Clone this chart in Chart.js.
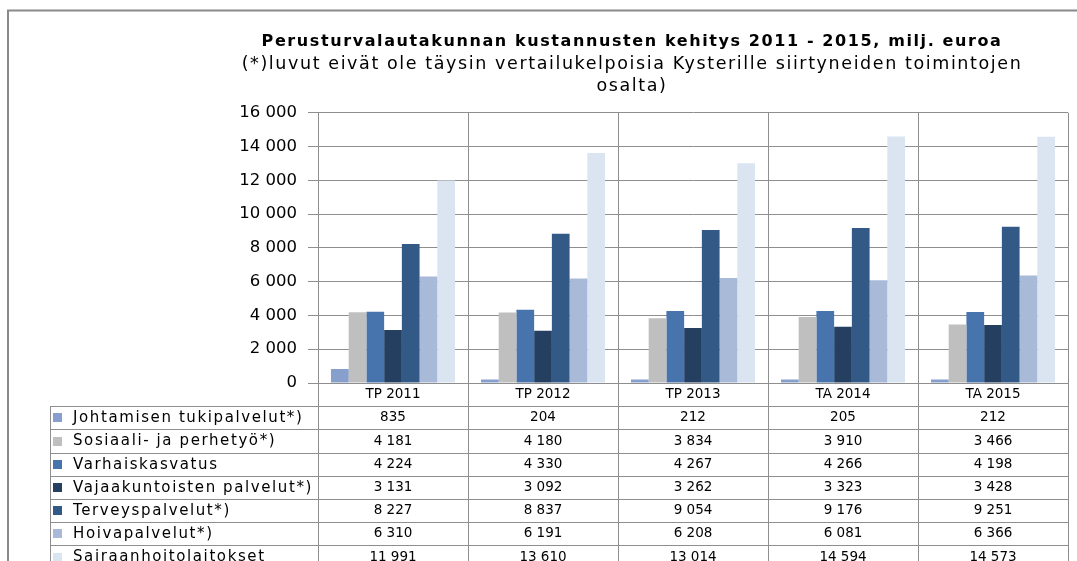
<!DOCTYPE html>
<html>
<head>
<meta charset="utf-8">
<script src="https://cdn.jsdelivr.net/npm/chart.js@4"></script>
<style>
  html, body { margin: 0; padding: 0; background: #fff; }
  #wrap { position: relative; width: 1077px; height: 561px; overflow: hidden; }
</style>
</head>
<body>
<div id="wrap"><canvas id="kaavio" width="1077" height="561"></canvas></div>
<script>
// data luettu kuvasta
const vuodet = ['TP 2011', 'TP 2012', 'TP 2013', 'TA 2014', 'TA 2015']
const johtaminen = [835, 204, 212, 205, 212]
const sosiaali = [4181, 4180, 3834, 3910, 3466]
const varhaiskasvatus = [4224, 4330, 4267, 4266, 4198]
const vajaakuntoiset = [3131, 3092, 3262, 3323, 3428]
const terveys = [8227, 8837, 9054, 9176, 9251]
const hoiva = [6310, 6191, 6208, 6081, 6366]
const sairaala = [11991, 13610, 13014, 14594, 14573]
const yTicks = [0, 2000, 4000, 6000, 8000, 10000, 12000, 14000, 16000]

const sarjat = [
  { label: 'Johtamisen tukipalvelut*)', data: johtaminen, color: '#869fcc' },
  { label: 'Sosiaali- ja perhetyö*)', data: sosiaali, color: '#bfbfbf' },
  { label: 'Varhaiskasvatus', data: varhaiskasvatus, color: '#4874ad' },
  { label: 'Vajaakuntoisten palvelut*)', data: vajaakuntoiset, color: '#253f61' },
  { label: 'Terveyspalvelut*)', data: terveys, color: '#335a86' },
  { label: 'Hoivapalvelut*)', data: hoiva, color: '#a9bad8' },
  { label: 'Sairaanhoitolaitokset', data: sairaala, color: '#dbe5f2' }
]

const RIVI = 23.2
const VIIVA = '#8e8e8e'
const fmt = n => String(n).replace(/\B(?=(\d{3})+(?!\d))/g, ' ')

Chart.defaults.font.family = '"DejaVu Sans", sans-serif'
Chart.defaults.color = '#000'

// kehys, otsikon harvennus, taulukon viivat ja selitteet
const taulukko = {
  id: 'taulukko',
  beforeDraw(chart) {
    const ctx = chart.ctx
    ctx.save()
    ctx.strokeStyle = '#8a8a8a'
    ctx.lineWidth = 2
    ctx.beginPath()
    ctx.moveTo(8, 561)
    ctx.lineTo(8, 10.5)
    ctx.lineTo(1077, 10.5)
    ctx.stroke()
    ctx.restore()
    // otsikot piirretään harvennettuina, akselien tekstit myöhemmin ilman
    if ('letterSpacing' in ctx) ctx.letterSpacing = '1.6px'
  },
  afterDatasetsDraw(chart) {
    if ('letterSpacing' in chart.ctx) chart.ctx.letterSpacing = '0px'
  },
  afterDraw(chart) {
    const ctx = chart.ctx
    const a = chart.chartArea
    const leveys = (a.right - a.left) / vuodet.length
    const alku = a.bottom + RIVI
    ctx.save()
    ctx.strokeStyle = VIIVA
    ctx.lineWidth = 1
    ctx.beginPath()
    for (let i = 0; i <= sarjat.length; i++) {
      const y = Math.round(alku + i * RIVI) + 0.5
      ctx.moveTo(50, y)
      ctx.lineTo(a.right, y)
    }
    ctx.moveTo(50.5, alku)
    ctx.lineTo(50.5, 561)
    for (let i = 0; i <= vuodet.length; i++) {
      const x = Math.round(a.left + i * leveys) + 0.5
      ctx.moveTo(x, a.bottom)
      ctx.lineTo(x, 561)
    }
    ctx.stroke()

    ctx.font = '15px "DejaVu Sans"'
    ctx.textBaseline = 'middle'
    ctx.textAlign = 'left'
    if ('letterSpacing' in ctx) ctx.letterSpacing = '1.6px'
    sarjat.forEach((s, i) => {
      const yc = alku + i * RIVI + RIVI / 2
      ctx.fillStyle = s.color
      ctx.fillRect(53, Math.round(yc - 4.5), 9, 9)
      ctx.fillStyle = '#000'
      ctx.fillText(s.label, 73, yc + 0.5)
    })
    ctx.restore()
    if ('letterSpacing' in ctx) ctx.letterSpacing = '0px'
  }
}

new Chart(document.getElementById('kaavio'), {
  type: 'bar',
  data: {
    labels: vuodet,
    datasets: sarjat.map(s => ({
      label: s.label,
      data: s.data,
      backgroundColor: s.color,
      borderWidth: 0,
      barPercentage: 1,
      categoryPercentage: 0.827
    }))
  },
  options: {
    responsive: false,
    animation: false,
    layout: { padding: { left: 196, right: 9, top: 0, bottom: 0 } },
    plugins: {
      legend: { display: false },
      tooltip: { enabled: false },
      title: {
        display: true,
        text: 'Perusturvalautakunnan kustannusten kehitys 2011 - 2015, milj. euroa',
        font: { size: 16, weight: 'bold', lineHeight: 1.2 },
        color: '#000',
        padding: { top: 32, bottom: 2 }
      },
      subtitle: {
        display: true,
        text: ['(*)luvut eivät ole täysin vertailukelpoisia Kysterille siirtyneiden toimintojen', 'osalta)'],
        font: { size: 17.5, lineHeight: '22px' },
        color: '#000',
        padding: { top: 0, bottom: 15.5 }
      }
    },
    scales: {
      x: {
        afterFit: s => { s.height = 178 },
        grid: { color: VIIVA, drawTicks: false, offset: true },
        border: { color: VIIVA },
        ticks: {
          z: 1,
          autoSkip: false,
          maxRotation: 0,
          padding: 0,
          font: { size: 13.5, lineHeight: RIVI + 'px' },
          callback: (v, i) => [vuodet[i], ...sarjat.map(s => fmt(s.data[i]))]
        }
      },
      y: {
        min: yTicks[0],
        max: yTicks[yTicks.length - 1],
        afterFit: s => { s.width = 122 },
        afterBuildTicks: s => { s.ticks = yTicks.map(v => ({ value: v })) },
        grid: { color: VIIVA, tickLength: 10 },
        border: { color: VIIVA },
        ticks: {
          z: 1,
          padding: 11,
          font: { size: 16.5 },
          callback: v => fmt(v)
        }
      }
    }
  },
  plugins: [taulukko]
})
</script>
</body>
</html>
